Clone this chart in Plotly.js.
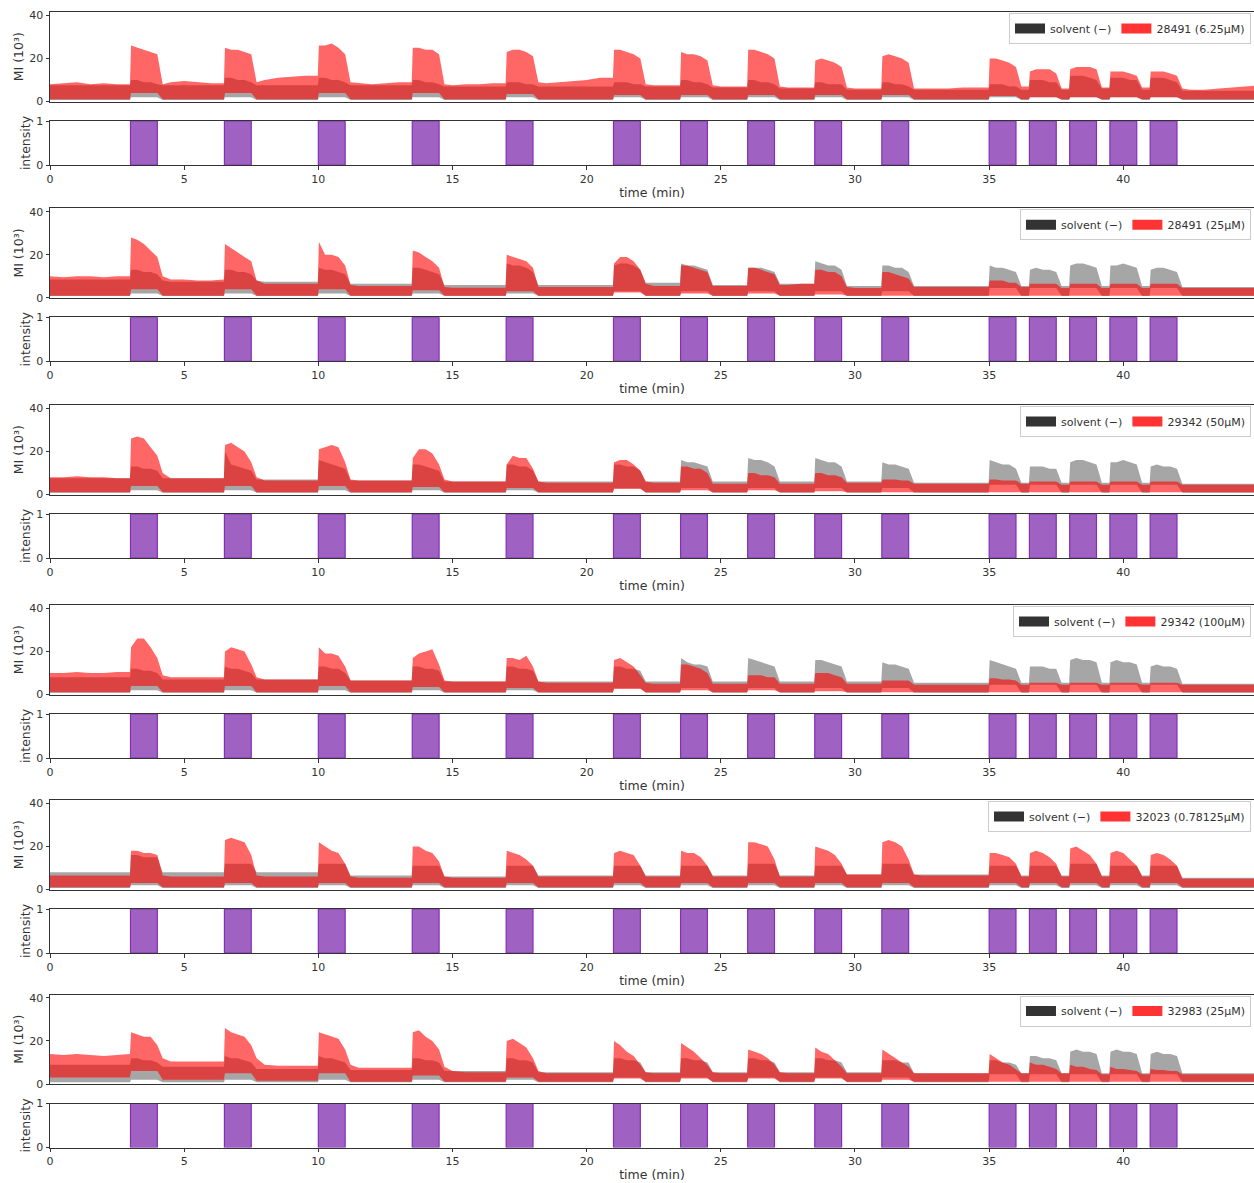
<!DOCTYPE html>
<html>
<head>
<meta charset="utf-8">
<script src="https://cdn.plot.ly/plotly-3.0.1.min.js"></script>
<style>html,body{margin:0;padding:0;background:#fff}#chart{width:1254px;height:1183px}</style>
</head>
<body>
<div id="chart"></div>
<script>
// ---------- DATA ----------
// time nodes (min), shared by all six recordings
const t = [0,0.5,1,1.5,2,2.5,2.98,
3.02,3.25,3.5,3.75,4,4.2,4.5,5,5.5,6,6.48,
6.52,6.75,7,7.25,7.5,7.7,8,8.5,9,9.5,9.98,
10.02,10.25,10.5,10.75,11,11.2,11.5,12,12.5,13,13.48,
13.52,13.75,14,14.25,14.5,14.7,15,15.5,16,16.5,16.98,
17.02,17.25,17.5,17.75,18,18.2,18.5,19,19.5,20,20.5,20.98,
21.02,21.25,21.5,21.75,22,22.2,22.5,23,23.48,
23.52,23.75,24,24.25,24.5,24.7,25,25.5,25.98,
26.02,26.25,26.5,26.75,27,27.2,27.5,28,28.48,
28.52,28.75,29,29.25,29.5,29.7,30,30.5,30.98,
31.02,31.25,31.5,31.75,32,32.2,32.5,33,33.5,34,34.5,34.98,
35.02,35.25,35.5,35.75,36,36.2,36.48,
36.52,36.75,37,37.25,37.5,37.7,37.98,
38.02,38.25,38.5,38.75,39,39.2,39.48,
39.52,39.75,40,40.25,40.5,40.7,40.98,
41.02,41.25,41.5,41.75,42,42.2,42.5,43,43.5,44,44.5,45];

// stimulus pulses
const stimStart = [3,6.5,10,13.5,17,21,23.5,26,28.5,31,35,36.5,38,39.5,41];
const stimDur = [1,1,1,1,1,1,1,1,1,1,1,1,1,1,1];
const stimIntensity = [1,1,1,1,1,1,1,1,1,1,1,1,1,1,1];

const solventLabel = 'solvent (\u2212)';
const compoundLabels = ['28491 (6.25\u03bcM)','28491 (25\u03bcM)','29342 (50\u03bcM)','29342 (100\u03bcM)','32023 (0.78125\u03bcM)','32983 (25\u03bcM)'];
const xTickVals = [0,5,10,15,20,25,30,35,40];
const miTickVals = [0,20,40];
const intTickVals = [0,1];

// MI (10^3) envelopes: upper / lower edge of each noisy trace
const p1RedHi = [8,8.5,9,8,8.5,8,8,
26,25,24,23,22,8,9,9.5,9,8.5,8.5,
25,24,24,23,22,9,10,11,11.5,12,12,
26,26,27,25,22,9,8.5,8,8.5,9,9,
25,25,24,24,22,8,7.5,8,8,8.5,8.5,
23,24,24,23,21,9,8.5,9,9.5,10,11,11,
24,24,23,22,20,8,7.5,7.5,7.5,
23,22,22,21,19,7.5,7,7,7,
24,24,23,22,20,7,6.5,6.5,6.5,
19,20,19,18,16,6.5,6,6,6,
21,22,21,20,18,6,6,6,6,6.5,6.5,6.5,
20,20,19,18,16,7,7,
14,15,15,15,13,6,6,
15,16,16,16,15,6.5,6.5,
14,14,14,13,12,6.5,6.5,
14,14,14,13,12,6,5.5,5.5,6,6.5,7,7.5];
const p1RedLo = [1,1,1,1,1,1,1,
4,4,4,4,4,1,1,1,1,1,1,
4,4,4,4,4,1,1,1,1,1,1,
4,4,4,4,4,1,1,1,1,1,1,
4,4,4,4,4,1,1,1,1,1,1,
3.5,3.5,3.5,3.5,3.5,1,1,1,1,1,1,1,
3,3,3,3,3,1,1,1,1,
3,3,3,3,3,1,1,1,1,
3,3,3,3,3,1,1,1,1,
3,3,3,3,3,1,1,1,1,
3,3,3,3,3,1,1,1,1,1,1,1,
2.5,2.5,2.5,2.5,2.5,1,1,
2,2,2,2,2,1,1,
2,2,2,2,2,1,1,
2,2,2,2,2,1,1,
2,2,2,2,2,1,1,1,1,1,1,1];
const p1GrayHi = [7.5,7.5,7.5,7.5,7.5,7.5,7.5,
10,10,9,9,8,7.5,7.5,7.5,7.5,7.5,7.5,
11,11,10,10,9,7.5,7.5,7.5,7.5,7.5,7.5,
11,11,10,10,9,7.5,7.5,7.5,7.5,7.5,7.5,
10,10,9,9,8,7,7,7,7,7,7,
9,9,9,8,8,7,7,7,7,7,7,7,
9,9,9,8,8,7,7,7,7,
10,10,9,9,8,6.5,6.5,6.5,6.5,
10,10,9,9,8,6,6,6,6,
9,9,8,8,8,5.5,5.5,5.5,5.5,
9,9,8,8,7,5.5,5.5,5.5,5.5,5.5,5.5,5.5,
8,8,8,7,7,5.5,5.5,
10,10,10,9,9,5.5,5.5,
12,12,12,11,10,6,6,
11,11,11,10,10,5.5,5.5,
11,11,11,10,9,5,5,5,5,5,5,5];
const p1GrayLo = [0.7,0.7,0.7,0.7,0.7,0.7,0.7,
2,2,2,2,2,0.7,0.7,0.7,0.7,0.7,0.7,
2,2,2,2,2,0.7,0.7,0.7,0.7,0.7,0.7,
2,2,2,2,2,0.7,0.7,0.7,0.7,0.7,0.7,
2,2,2,2,2,0.7,0.7,0.7,0.7,0.7,0.7,
2,2,2,2,2,0.7,0.7,0.7,0.7,0.7,0.7,0.7,
2,2,2,2,2,0.7,0.7,0.7,0.7,
2,2,2,2,2,0.7,0.7,0.7,0.7,
2,2,2,2,2,0.7,0.7,0.7,0.7,
2,2,2,2,2,0.7,0.7,0.7,0.7,
2,2,2,2,2,0.7,0.7,0.7,0.7,0.7,0.7,0.7,
2,2,2,2,2,0.7,0.7,
2,2,2,2,2,0.7,0.7,
2,2,2,2,2,0.7,0.7,
2,2,2,2,2,0.7,0.7,
2,2,2,2,2,0.7,0.7,0.7,0.7,0.7,0.7,0.7];

const p2RedHi = [10,9.5,10,10,9.5,10,10,
28,27,25,22,19,10,8.5,8.5,8,8,8.5,
25,23,21,19,17,8,6.5,6.5,6.5,6.5,6.5,
26,20,20,19,15,6,5.5,5.5,5.5,5.5,5.5,
22,21,19,17,14,5,4.7,4.7,4.7,4.7,4.7,
20,19,18,17,14,5,5,5,5,5,5,5,
16,19,19,17,13,6.5,5.5,5.5,5.5,
15,15,14,13,12,5.5,5.5,5.5,5.5,
14,14,13,12,11,6,6,6.5,6.5,
13,13,12,12,10,5,4.5,4.5,4.5,
12,12,11,10,9,5,5,5,5,5,5,5,
8,8,8,7,7,5,5,
6.5,6.5,6.5,6.5,6.5,4.5,4.5,
6.5,6.5,6.5,6.5,6.5,4.5,4.5,
6.5,6.5,6.5,6.5,6.5,4.5,4.5,
6.5,6.5,6.5,6.5,6.5,4.5,4.5,4.5,4.5,4.5,4.5,4.5];
const p2RedLo = [1,1,1,1,1,1,1,
4,4,4,4,4,1,1,1,1,1,1,
4,4,4,4,4,1,1,1,1,1,1,
4,4,4,4,4,1,1,1,1,1,1,
3.5,3.5,3.5,3.5,3.5,1,1,1,1,1,1,
3,3,3,3,3,1,1,1,1,1,1,1,
2.5,2.5,2.5,2.5,2.5,1,1,1,1,
2,2,2,2,2,1,1,1,1,
2,2,2,2,2,1,1,1,1,
1.5,1.5,1.5,1.5,1.5,1,1,1,1,
1,1,1,1,1,1,1,1,1,1,1,1,
1,1,1,1,1,1,1,
1,1,1,1,1,1,1,
1,1,1,1,1,1,1,
1,1,1,1,1,1,1,
1,1,1,1,1,1,1,1,1,1,1,1];
const p2GrayHi = [8.5,8.5,8.5,8.5,8.5,8.5,8.5,
13,13,12,12,11,8,7.5,7.5,7.5,7.5,7.5,
13,13,12,12,11,8,7.5,7.5,7.5,7.5,7.5,
14,13,13,12,11,6.5,6.5,6.5,6.5,6.5,6.5,
14,14,13,12,11,6,6,6,6,6,6,
16,15,15,14,12,6,6,6,6,6,6,6,
15,16,16,15,13,7,7,7,7,
16,15,15,14,13,6,6,6,6,
14,14,14,13,12,6.5,6.5,6.5,6.5,
17,16,15,15,13,5.5,5.5,5.5,5.5,
15,15,14,14,12,5.5,5.5,5.5,5.5,5.5,5.5,5.5,
15,14,14,13,12,5.5,5.5,
13,14,13,13,12,5.5,5.5,
15,16,16,15,14,5.5,5.5,
15,15,16,15,14,5.5,5.5,
13,14,14,13,12,5,5,5,5,5,5,5];
const p2GrayLo = [0.8,0.8,0.8,0.8,0.8,0.8,0.8,
2,2,2,2,2,0.8,0.8,0.8,0.8,0.8,0.8,
2,2,2,2,2,0.8,0.8,0.8,0.8,0.8,0.8,
2,2,2,2,2,0.8,0.8,0.8,0.8,0.8,0.8,
2,2,2,2,2,0.8,0.8,0.8,0.8,0.8,0.8,
2,2,2,2,2,0.8,0.8,0.8,0.8,0.8,0.8,0.8,
3,3,3,3,3,0.8,0.8,0.8,0.8,
3,3,3,3,3,0.8,0.8,0.8,0.8,
3,3,3,3,3,0.8,0.8,0.8,0.8,
3,3,3,3,3,0.8,0.8,0.8,0.8,
3,3,3,3,3,0.8,0.8,0.8,0.8,0.8,0.8,0.8,
4.5,4.5,4.5,4.5,4.5,0.8,0.8,
4.5,4.5,4.5,4.5,4.5,0.8,0.8,
4.5,4.5,4.5,4.5,4.5,0.8,0.8,
4.5,4.5,4.5,4.5,4.5,0.8,0.8,
4.5,4.5,4.5,4.5,4.5,0.8,0.8,0.8,0.8,0.8,0.8,0.8];

const p3RedHi = [8,8,8.5,8,8,7.5,7.5,
26,27,26,22,18,10,7.5,7.5,7.5,7.5,7.5,
23,24,22,20,15,8,6.5,6.5,6.5,6.5,6.5,
21,22,23,22,15,7,6.5,6.5,6.5,6.5,6.5,
17,21,21,19,14,7,6,6,6,6,6,
14,18,17,17,12,6,5.5,5.5,5.5,5.5,5.5,5.5,
15,16,16,14,11,6,5.5,5.5,5.5,
13,13,12,12,10,5,5,5,5,
10,10,9,9,8,5,5,5,5,
10,10,9,9,8,5.5,5.5,5.5,5.5,
7,7,7,6.5,6.5,5,5,5,5,5,5,5,
7,7,6.5,6.5,6.5,5,5,
6,6,6,6,6,4.5,4.5,
6,6,6,6,6,4.5,4.5,
6,6,6,6,6,4.5,4.5,
6,6,6,6,6,4.5,4.5,4.5,4.5,4.5,4.5,4.5];
const p3RedLo = p2RedLo.slice();
const p3GrayHi = [7.5,7.5,7.5,7.5,7.5,7.5,7.5,
13,13,12,12,11,7.5,7.5,7.5,7.5,7.5,7.5,
20,14,13,12,11,7,7,7,7,7,7,
16,15,14,13,12,6.5,6.5,6.5,6.5,6.5,6.5,
14,14,13,12,11,6,6,6,6,6,6,
14,14,13,13,11,6,6,6,6,6,6,6,
14,14,13,13,11,6,6,6,6,
16,15,15,14,13,6,6,6,6,
17,16,16,15,13,6,6,6,6,
17,16,15,15,13,6,6,6,6,
15,14,14,13,12,5.5,5.5,5.5,5.5,5.5,5.5,5.5,
16,15,14,14,12,5.5,5.5,
13,13,13,12,12,5.5,5.5,
15,16,16,15,14,5.5,5.5,
15,15,16,15,14,5.5,5.5,
13,14,13,13,12,5,5,5,5,5,5,5];
const p3GrayLo = p2GrayLo.slice();

const p4RedHi = [10,10,10.5,10,10,10.5,10.5,
22,26,26,22,17,9,8,8,8,8,8,
20,22,21,20,14,8,7,7,7,7,7,
22,19,19,18,13,6.5,6.5,6.5,6.5,6.5,6.5,
17,19,20,21,14,6.5,6,6,6,6,6,
17,17,16,18,13,6,5.5,5.5,5.5,5.5,5.5,5.5,
16,17,15,13,9,5.5,5,5,5,
14,14,13,12,10,5,5,5,5,
9,9,9,8,8,5,5,5,5,
10,10,10,9,8,5,5,5,5,
6.5,6.5,6.5,6.5,6.5,4.5,4.5,4.5,4.5,4.5,4.5,4.5,
7.5,7.5,7,7,6.5,4.5,4.5,
5.5,5.5,5.5,5.5,5.5,4.5,4.5,
5.5,5.5,5.5,5.5,5.5,4.5,4.5,
5.5,5.5,5.5,5.5,5.5,4.5,4.5,
5.5,5.5,5.5,5.5,5.5,4.5,4.5,4.5,4.5,4.5,4.5,4.5];
const p4RedLo = p2RedLo.slice();
const p4GrayHi = [8,8,8,8,8,8,8,
12,12,11,11,10,7,7,7,7,7,7,
13,12,12,11,10,7,7,7,7,7,7,
13,13,12,12,10,6.5,6.5,6.5,6.5,6.5,6.5,
13,13,12,12,11,6,6,6,6,6,6,
13,13,12,12,11,6,6,6,6,6,6,6,
13,13,12,12,11,6,6,6,6,
17,15,14,14,13,6,6,6,6,
17,16,15,14,13,6,6,6,6,
16,16,15,14,13,6,6,6,6,
15,14,14,13,12,5.5,5.5,5.5,5.5,5.5,5.5,5.5,
16,15,14,13,12,5.5,5.5,
13,13,13,12,12,5.5,5.5,
16,17,16,16,15,5.5,5.5,
15,16,15,15,14,5.5,5.5,
13,14,13,13,12,5,5,5,5,5,5,5];
const p4GrayLo = p2GrayLo.slice();

const p5RedHi = [6.5,6.5,6.5,6.5,6.5,6.5,6.5,
18,18,17,17,16,6.5,6,6,6,6,6,
23,24,23,22,16,6.5,6,6,6,6,6,
22,20,18,17,12,6,5.5,5.5,5.5,5.5,5.5,
20,20,18,17,13,6,5.5,5.5,5.5,5.5,5.5,
18,17,16,14,11,6,6,6,6,6,6,6,
17,18,17,16,11,6,6,6,6,
18,17,17,15,11,6,6,6,6,
22,22,21,20,14,6,6,6,6,
20,19,18,16,12,7,7,7,7,
22,23,22,20,14,7,6.5,6.5,6.5,6.5,6.5,6.5,
17,17,16,15,12,6,6,
17,18,17,15,12,6,6,
19,20,18,16,12,6,6,
17,18,17,14,11,6,6,
16,17,16,14,11,5,5,5,5,5,5,5];
const p5RedLo = [1,1,1,1,1,1,1,
3,3,3,3,3,1,1,1,1,1,1,
3,3,3,3,3,1,1,1,1,1,1,
3,3,3,3,3,1,1,1,1,1,1,
3,3,3,3,3,1,1,1,1,1,1,
3,3,3,3,3,1,1,1,1,1,1,1,
3,3,3,3,3,1,1,1,1,
3,3,3,3,3,1,1,1,1,
3,3,3,3,3,1,1,1,1,
3,3,3,3,3,1,1,1,1,
3,3,3,3,3,1,1,1,1,1,1,1,
3,3,3,3,3,1,1,
3,3,3,3,3,1,1,
3,3,3,3,3,1,1,
3,3,3,3,3,1,1,
3,3,3,3,3,1,1,1,1,1,1,1];
const p5GrayHi = [8,8,8,8,8,8,8,
16,16,15,15,15,8,8,8,8,8,8,
12,12,12,12,12,8,8,8,8,8,8,
12,12,12,12,12,6.5,6.5,6.5,6.5,6.5,6.5,
11,11,11,11,11,6,6,6,6,6,6,
11,11,11,11,11,6.5,6.5,6.5,6.5,6.5,6.5,6.5,
11,11,11,11,11,6.5,6.5,6.5,6.5,
11,11,11,11,11,6.5,6.5,6.5,6.5,
12,12,12,12,12,6.5,6.5,6.5,6.5,
11,11,11,11,11,7,7,7,7,
12,12,12,12,12,7,7,7,7,7,7,7,
11,11,11,11,11,6.5,6.5,
11,11,11,11,11,6.5,6.5,
12,12,12,12,12,6.5,6.5,
11,11,11,11,11,6.5,6.5,
11,11,11,11,11,5.5,5.5,5.5,5.5,5.5,5.5,5.5];
const p5GrayLo = p1GrayLo.slice();

const p6RedHi = [14,13.5,14,13.5,13,13.5,14,
24,23,22,22,18,12,10.5,10.5,10.5,10.5,10.5,
26,24,23,22,18,12,9,8.5,8.5,8.5,8.5,
24,23,22,21,16,9,7.5,7.5,7.5,7.5,7.5,
24,25,22,20,16,8,6,5.5,5.5,5.5,5.5,
20,21,19,17,12,6,5,5,5,5,5,5,
20,18,15,13,9,5.5,5,5,5,
19,17,15,12,9,5.5,5,5,5,
16,15,14,12,9,5.5,5,5,5,
17,15,14,11,8,5,5,5,5,
16,14,12,10,8,5,5,5,5,5,5,5,
14,12,10,9,7,5,5,
10,9,9,8,7,5,5,
9,8,8,7,6.5,4.5,4.5,
8,7,7,6.5,6,4.5,4.5,
7,6.5,6.5,6,6,4.5,4.5,4.5,4.5,4.5,4.5,4.5];
const p6RedLo = [3,3,3,3,3,3,3,
6,6,6,6,6,2,2,2,2,2,2,
5,5,5,5,5,1.5,1.5,1.5,1.5,1.5,1.5,
5,5,5,5,5,1,1,1,1,1,1,
4,4,4,4,4,1,1,1,1,1,1,
3,3,3,3,3,1,1,1,1,1,1,1,
2.5,2.5,2.5,2.5,2.5,1,1,1,1,
2.5,2.5,2.5,2.5,2.5,1,1,1,1,
2.5,2.5,2.5,2.5,2.5,1,1,1,1,
2.5,2.5,2.5,2.5,2.5,1,1,1,1,
2,2,2,2,2,1,1,1,1,1,1,1,
1,1,1,1,1,1,1,
1,1,1,1,1,1,1,
1,1,1,1,1,1,1,
1,1,1,1,1,1,1,
1,1,1,1,1,1,1,1,1,1,1,1];
const p6GrayHi = [9,9,9,9,9,9,9,
12,12,11,11,10,8,8,8,8,8,8,
13,12,12,11,10,7,7,7,7,7,7,
13,12,12,11,10,6.5,6.5,6.5,6.5,6.5,6.5,
12,12,11,11,10,6,6,6,6,6,6,
12,12,11,11,10,5.5,5.5,5.5,5.5,5.5,5.5,5.5,
12,12,11,11,10,5.5,5.5,5.5,5.5,
12,12,11,11,10,5.5,5.5,5.5,5.5,
12,12,11,11,10,5.5,5.5,5.5,5.5,
12,12,11,11,10,5.5,5.5,5.5,5.5,
11,11,11,10,10,5,5,5,5,5,5,5,
11,11,10,10,9,5,5,
13,13,12,12,11,5,5,
15,16,15,15,14,5,5,
15,16,15,15,14,5,5,
14,15,14,14,13,5,5,5,5,5,5,5];
const p6GrayLo = p2GrayLo.slice();

// ---------- FIGURE ----------
const W = 1254, H = 1183;
const panelTops = [12, 208.3, 405, 605, 800, 994.5]; // px, top of MI axes
const MI_H = 89.5, INT_TOP = 109, INT_BOT = 153;

const panels = [
  {rHi:p1RedHi, rLo:p1RedLo, gHi:p1GrayHi, gLo:p1GrayLo},
  {rHi:p2RedHi, rLo:p2RedLo, gHi:p2GrayHi, gLo:p2GrayLo},
  {rHi:p3RedHi, rLo:p3RedLo, gHi:p3GrayHi, gLo:p3GrayLo},
  {rHi:p4RedHi, rLo:p4RedLo, gHi:p4GrayHi, gLo:p4GrayLo},
  {rHi:p5RedHi, rLo:p5RedLo, gHi:p5GrayHi, gLo:p5GrayLo},
  {rHi:p6RedHi, rLo:p6RedLo, gHi:p6GrayHi, gLo:p6GrayLo}
];
panels.forEach((p,i)=>{
  ['rHi','rLo','gHi','gLo'].forEach(k=>{
    if(p[k].length!==t.length) throw new Error('panel '+(i+1)+' '+k+' length '+p[k].length+' vs '+t.length);
  });
});

const FONT = 'DejaVu Sans, Arial, sans-serif';
const AX = '#333333';
const XMAX = 44.87;
const frac = px => 1 - px / H;

const data = [];
const layout = {
  width: W, height: H,
  margin: {l:50, r:0, t:0, b:0},
  paper_bgcolor: '#ffffff', plot_bgcolor: '#ffffff',
  showlegend: true, hovermode: false,
  font: {family: FONT, color: AX, size: 11}
};

panels.forEach((p,i)=>{
  const k1 = 2*i+1, k2 = 2*i+2;
  const xa1 = 'x'+k1, ya1 = 'y'+k1, xa2 = 'x'+k2, ya2 = 'y'+k2;
  const legName = i===0 ? 'legend' : 'legend'+(i+1);
  const top = panelTops[i];

  data.push({x:t, y:p.gLo, xaxis:xa1, yaxis:ya1, mode:'lines', line:{width:0, color:'rgba(0,0,0,0)'}, showlegend:false, hoverinfo:'skip'});
  data.push({x:t, y:p.gHi, xaxis:xa1, yaxis:ya1, mode:'lines', fill:'tonexty', fillcolor:'rgba(128,128,128,0.7)', line:{width:0, color:'rgba(0,0,0,0)'}, showlegend:false, hoverinfo:'skip'});
  data.push({x:t, y:p.rLo, xaxis:xa1, yaxis:ya1, mode:'lines', line:{width:0, color:'rgba(0,0,0,0)'}, showlegend:false, hoverinfo:'skip'});
  data.push({x:t, y:p.rHi, xaxis:xa1, yaxis:ya1, mode:'lines', fill:'tonexty', fillcolor:'rgba(255,0,0,0.6)', line:{width:0, color:'rgba(0,0,0,0)'}, showlegend:false, hoverinfo:'skip'});
  // legend entries
  data.push({x:[null], y:[null], xaxis:xa1, yaxis:ya1, mode:'lines', line:{width:10, color:'rgba(0,0,0,0.8)'}, name:solventLabel, legend:legName});
  data.push({x:[null], y:[null], xaxis:xa1, yaxis:ya1, mode:'lines', line:{width:10, color:'rgba(255,0,0,0.8)'}, name:compoundLabels[i], legend:legName});
  // stimulus
  data.push({type:'bar', x:stimStart, y:stimIntensity, width:stimDur, offset:0, xaxis:xa2, yaxis:ya2,
    marker:{color:'#a062c2', line:{color:'#8230b8', width:1.2}}, showlegend:false, hoverinfo:'skip'});

  const commonX = {range:[0, XMAX], showgrid:false, zeroline:false, showline:true, linecolor:AX, linewidth:1, mirror:true};
  layout['xaxis'+k1] = Object.assign({}, commonX, {domain:[0,1], anchor:ya1, showticklabels:false, ticks:''});
  layout['yaxis'+k1] = {domain:[frac(top+MI_H), frac(top)], anchor:xa1, range:[0,41.6], tickvals:miTickVals,
    ticks:'outside', ticklen:3.5, tickcolor:AX, showgrid:false, zeroline:false, showline:true, linecolor:AX, linewidth:1,
    tickfont:{size:11, color:AX}, title:{text:'MI (10\u00b3)', font:{size:12.5, color:AX}, standoff:2}};
  layout['xaxis'+k2] = Object.assign({}, commonX, {domain:[0,1], anchor:ya2, tickvals:xTickVals, ticks:'outside', ticklen:3.5,
    tickcolor:AX, tickfont:{size:11, color:AX}, title:{text:'time (min)', font:{size:12.5, color:AX}, standoff:3}});
  layout['yaxis'+k2] = {domain:[frac(top+INT_BOT), frac(top+INT_TOP)], anchor:xa2, range:[0,1], tickvals:intTickVals,
    ticks:'outside', ticklen:3.5, tickcolor:AX, showgrid:false, zeroline:false, showline:true, linecolor:AX, linewidth:1,
    tickfont:{size:11, color:AX}, title:{text:'intensity', font:{size:12.5, color:AX}, standoff:2}};
  layout[legName] = {x:0.9975, xanchor:'right', y:frac(top+1), yanchor:'top', orientation:'h',
    bgcolor:'#ffffff', bordercolor:'#cccccc', borderwidth:1, font:{size:11, color:AX, family:FONT},
    itemwidth:30, traceorder:'normal'};
});

Plotly.newPlot('chart', data, layout, {staticPlot:true, displayModeBar:false});
</script>
</body>
</html>
